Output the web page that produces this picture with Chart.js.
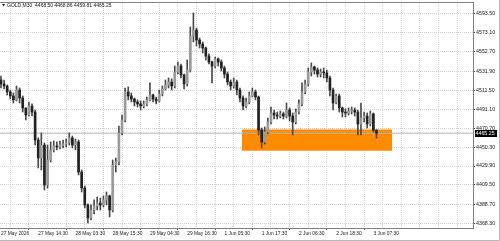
<!DOCTYPE html>
<html>
<head>
<meta charset="utf-8">
<title>GOLD,M30</title>
<script src="https://cdn.jsdelivr.net/npm/chart.js"></script>
<style>
  html, body { margin: 0; padding: 0; background: #fff; }
  #wrap { width: 500px; height: 241px; }
</style>
</head>
<body>
<div id="wrap"><canvas id="myChart" width="500" height="241"></canvas></div>
<script>
// GOLD M30 chart, bars (one bar per hour)
const symbol = 'GOLD,M30';

const opens = [
  4522.5,4518.2,4516.0,4509.6,4505.3,4501.0,4511.7,4503.1,4492.4,4484.8,
  4494.5,4488.0,4457.9,4438.5,4452.5,4409.5,4436.4,4447.2,4451.5,4450.4,
  4452.5,4453.6,4454.7,4460.1,4452.5,4455.8,4423.5,4406.3,4388.0,4374.0,
  4382.6,4386.9,4390.1,4388.0,4393.4,4397.7,4382.6,4431.0,4434.2,4465.5,
  4479.4,4509.6,4505.3,4502.0,4498.8,4496.7,4494.5,4496.7,4501.0,4506.3,
  4502.0,4499.9,4507.4,4512.8,4517.1,4520.3,4516.0,4531.1,4537.5,4527.9,
  4518.2,4533.2,4569.8,4576.3,4565.5,4561.2,4556.9,4548.3,4541.8,4537.5,
  4545.1,4541.8,4535.4,4528.9,4520.3,4516.0,4520.3,4511.7,4503.1,4494.5,
  4498.8,4505.3,4509.6,4504.2,4468.7,4455.8,4466.5,4477.3,4487.0,4484.8,
  4483.7,4485.9,4483.7,4490.2,4483.7,4477.3,4488.0,4496.7,4509.6,4518.2,
  4531.1,4536.5,4533.2,4528.9,4531.1,4530.0,4524.6,4511.7,4497.7,4505.3,
  4492.4,4488.0,4486.9,4489.1,4490.2,4488.0,4475.1,4481.6,4483.7,4475.1,
  4485.9,4468.50
];
const highs = [
  4526.8,4522.5,4517.1,4511.7,4508.5,4516.0,4513.9,4505.3,4492.4,4498.8,
  4496.7,4490.2,4460.1,4465.5,4454.7,4452.5,4455.8,4456.8,4455.8,4456.8,
  4457.9,4459.0,4465.5,4462.2,4459.0,4457.9,4425.6,4408.4,4389.1,4388.0,
  4393.4,4396.6,4395.5,4397.7,4402.0,4398.7,4436.4,4438.5,4473.0,4484.8,
  4513.9,4515.0,4508.5,4503.1,4501.0,4499.9,4499.9,4504.2,4519.3,4507.4,
  4504.2,4511.7,4516.0,4522.5,4524.6,4523.6,4537.5,4541.8,4539.7,4528.9,
  4544.0,4579.5,4594.6,4578.4,4567.7,4563.4,4558.0,4550.5,4542.9,4547.2,
  4546.2,4544.0,4537.5,4531.1,4522.5,4524.6,4522.5,4513.9,4505.3,4503.1,
  4509.6,4513.9,4511.7,4505.3,4470.8,4471.9,4481.6,4493.4,4490.2,4488.0,
  4489.1,4488.0,4497.7,4492.4,4487.0,4491.3,4501.0,4519.3,4522.5,4535.4,
  4540.8,4537.5,4535.4,4534.3,4535.4,4533.2,4526.8,4513.9,4507.4,4507.4,
  4493.4,4491.3,4492.4,4493.4,4492.4,4490.2,4497.7,4488.0,4487.0,4489.1,
  4487.0,4468.86
];
const lows = [
  4513.9,4512.8,4506.3,4502.0,4497.7,4499.9,4497.7,4488.0,4479.4,4483.7,
  4483.7,4452.5,4427.8,4425.6,4404.1,4406.3,4434.2,4445.0,4447.2,4448.2,
  4449.3,4450.4,4452.5,4449.3,4447.2,4420.3,4402.0,4384.8,4368.6,4371.8,
  4378.3,4382.6,4382.6,4385.8,4388.0,4375.1,4380.4,4423.5,4431.0,4463.3,
  4477.3,4501.0,4498.8,4494.5,4493.4,4490.2,4492.4,4494.5,4499.9,4498.8,
  4496.7,4498.8,4505.3,4511.7,4513.9,4511.7,4513.9,4528.9,4524.6,4512.8,
  4516.0,4531.1,4563.4,4559.1,4556.9,4551.5,4544.0,4539.7,4519.3,4535.4,
  4537.5,4532.2,4524.6,4517.1,4511.7,4513.9,4506.3,4498.8,4490.2,4492.4,
  4496.7,4504.2,4501.0,4463.3,4449.3,4453.6,4464.4,4475.1,4480.5,4480.5,
  4481.6,4480.5,4481.6,4478.4,4463.3,4475.1,4485.9,4494.5,4507.4,4516.0,
  4526.8,4528.9,4525.7,4525.7,4524.6,4520.3,4505.3,4490.2,4496.7,4488.0,
  4482.7,4482.7,4484.8,4485.9,4483.7,4463.3,4463.3,4477.3,4470.8,4473.0,
  4466.5,4459.81
];
const closes = [
  4518.2,4516.0,4509.6,4505.3,4501.0,4511.7,4503.1,4492.4,4484.8,4494.5,
  4488.0,4457.9,4438.5,4452.5,4409.5,4436.4,4447.2,4451.5,4450.4,4452.5,
  4453.6,4454.7,4460.1,4452.5,4455.8,4423.5,4406.3,4388.0,4374.0,4382.6,
  4386.9,4390.1,4388.0,4393.4,4397.7,4382.6,4431.0,4434.2,4465.5,4479.4,
  4509.6,4505.3,4502.0,4498.8,4496.7,4494.5,4496.7,4501.0,4506.3,4502.0,
  4499.9,4507.4,4512.8,4517.1,4520.3,4516.0,4531.1,4537.5,4527.9,4518.2,
  4533.2,4569.8,4576.3,4565.5,4561.2,4556.9,4548.3,4541.8,4537.5,4545.1,
  4541.8,4535.4,4528.9,4520.3,4516.0,4520.3,4511.7,4503.1,4494.5,4498.8,
  4505.3,4509.6,4504.2,4468.7,4455.8,4466.5,4477.3,4487.0,4484.8,4483.7,
  4485.9,4483.7,4490.2,4483.7,4477.3,4488.0,4496.7,4509.6,4518.2,4531.1,
  4536.5,4533.2,4528.9,4531.1,4530.0,4524.6,4511.7,4497.7,4505.3,4492.4,
  4488.0,4486.9,4489.1,4490.2,4488.0,4475.1,4481.6,4483.7,4475.1,4485.9,
  4468.50,4465.25
];

// time axis labels, one every 12 bars
const timeLabels = ['27 May 2026','27 May 14:30','28 May 03:30','28 May 15:30','29 May 04:30',
  '29 May 16:30','1 Jun 05:30','1 Jun 17:30','2 Jun 06:30','2 Jun 18:30','3 Jun 07:30'];
const barsPerLabel = 12;

const priceTicks = [4593.50,4573.10,4552.70,4531.90,4511.50,4491.10,4470.70,
  4450.30,4429.90,4409.50,4388.70,4368.30];

const lastPrice = closes[closes.length - 1];

// orange zone (bar index range and price range)
const zoneFrom = 77.6, zoneTo = 126.0;
const zoneTop = 4468.7, zoneBottom = 4446.4;

const xMin = -0.32, xMax = 152.1;
const yMin = 4363.2, yMax = 4606.4;

const upColor = '#9a9a9a', downColor = '#222222';
const bodyColors = closes.map((c, i) => c >= opens[i] ? upColor : downColor);

const mt4Frame = {
  id: 'mt4Frame',
  afterDraw(chart) {
    const ctx = chart.ctx, a = chart.chartArea, y = chart.scales.y;
    const last = closes.length - 1;
    ctx.save();
    ctx.strokeStyle = '#808080';
    ctx.lineWidth = 1;
    ctx.beginPath();
    ctx.moveTo(a.left, a.top + 0.5);
    ctx.lineTo(a.right, a.top + 0.5);
    ctx.stroke();
    ctx.strokeStyle = '#b8b8b8';
    ctx.beginPath();
    ctx.moveTo(0, 240.5); ctx.lineTo(499.5, 240.5); ctx.lineTo(499.5, 0);
    ctx.stroke();

    ctx.fillStyle = '#1a1a1a';
    ctx.beginPath();
    ctx.moveTo(2, 4); ctx.lineTo(5, 4); ctx.lineTo(3.5, 6.5);
    ctx.closePath();
    ctx.fill();
    ctx.font = '5px "Liberation Sans"';
    ctx.textBaseline = 'middle';
    const head = [opens[last], highs[last], lows[last], closes[last]].map(v => v.toFixed(2)).join(' ');
    ctx.fillText(symbol + '  ' + head, 7, 5.5);

    const py = y.getPixelForValue(lastPrice);
    ctx.fillStyle = '#000';
    ctx.fillRect(a.right + 2, Math.round(py) - 3, 22, 7);
    ctx.fillStyle = '#fff';
    ctx.font = '5.3px "Liberation Sans"';
    ctx.fillText(lastPrice.toFixed(2), a.right + 2.5, Math.round(py) + 0.5);
    ctx.restore();
  }
};

new Chart(document.getElementById('myChart'), {
  type: 'bar',
  data: {
    datasets: [{
      label: 'body',
      data: closes.map((c, i) => ({ x: i, y: [opens[i], c] })),
      backgroundColor: bodyColors,
      borderWidth: 0,
      barThickness: 2,
      minBarLength: 1,
      grouped: false,
      order: 0
    }, {
      label: 'wick',
      data: highs.map((h, i) => ({ x: i, y: [lows[i], h] })),
      backgroundColor: '#4a4a4a',
      borderWidth: 0,
      barThickness: 1,
      grouped: false,
      order: 1
    }, {
      type: 'line',
      label: 'bid',
      data: [{ x: xMin, y: lastPrice }, { x: xMax, y: lastPrice }],
      borderColor: '#b4b4b4',
      borderWidth: 1,
      pointRadius: 0,
      order: 2
    }, {
      type: 'line',
      label: 'zone',
      data: [{ x: zoneFrom, y: zoneTop }, { x: zoneTo, y: zoneTop }],
      borderColor: '#ff8c00',
      backgroundColor: '#ff8c00',
      borderWidth: 1,
      pointRadius: 0,
      fill: { value: zoneBottom },
      order: 3
    }]
  },
  options: {
    responsive: false,
    animation: false,
    devicePixelRatio: 1,
    layout: { padding: { top: 2, left: 0, right: 0, bottom: 0 } },
    plugins: { legend: { display: false }, tooltip: { enabled: false } },
    scales: {
      x: {
        type: 'linear',
        min: xMin,
        max: xMax,
        offset: false,
        afterBuildTicks: (scale) => {
          const t = [];
          for (let v = 0; v <= xMax; v += barsPerLabel / 2) t.push({ value: v });
          scale.ticks = t;
        },
        afterFit: (scale) => { scale.height = 13; scale.paddingLeft = 0; scale.paddingRight = 0; },
        grid: {
          color: '#d2d2d2',
          drawTicks: true,
          tickLength: 2,
          tickBorderDash: [],
          tickColor: (c) => (c.tick && c.tick.value % barsPerLabel === 0 && timeLabels[c.tick.value / barsPerLabel]) ? '#555' : 'rgba(0,0,0,0)'
        },
        border: { color: '#808080', dash: [1, 1] },
        ticks: {
          autoSkip: false,
          maxRotation: 0,
          align: 'start',
          padding: 1,
          color: '#1a1a1a',
          font: { family: '"Liberation Sans"', size: 4.9 },
          callback: (v) => (v % barsPerLabel === 0 && timeLabels[v / barsPerLabel]) || ''
        }
      },
      y: {
        type: 'linear',
        position: 'right',
        min: yMin,
        max: yMax,
        afterBuildTicks: (scale) => { scale.ticks = priceTicks.map(v => ({ value: v })); },
        afterFit: (scale) => { scale.width = 27; scale.paddingTop = 0; scale.paddingBottom = 0; },
        grid: {
          color: '#d2d2d2',
          drawTicks: true,
          tickLength: 2,
          tickBorderDash: [],
          tickColor: '#444'
        },
        border: { color: '#808080', dash: [1, 1] },
        ticks: {
          padding: 1,
          color: '#1a1a1a',
          font: { family: '"Liberation Sans"', size: 5.3 },
          callback: (v) => Number(v).toFixed(2)
        }
      }
    }
  },
  plugins: [mt4Frame]
});
</script>
</body>
</html>
